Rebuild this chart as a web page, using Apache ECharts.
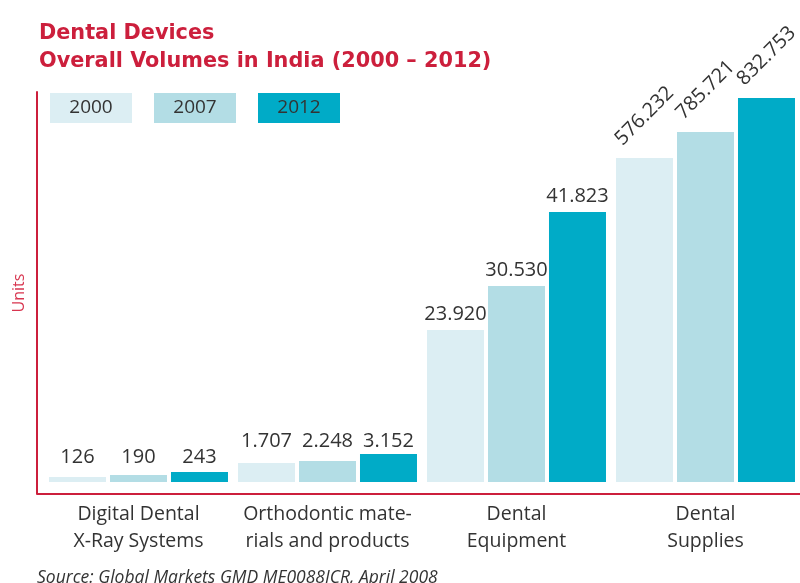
<!DOCTYPE html>
<html>
<head>
<meta charset="utf-8">
<script src="https://cdn.jsdelivr.net/npm/echarts@6/dist/echarts.min.js"></script>
<style>
  html, body { margin: 0; padding: 0; background: #ffffff; }
  #chart { width: 800px; height: 583px; }
</style>
</head>
<body>
<div id="chart"></div>
<script>
// ---- Data ----
const categories = ['Digital Dental\nX-Ray Systems', 'Orthodontic mate-\nrials and products', 'Dental\nEquipment', 'Dental\nSupplies'];
const years = ['2000', '2007', '2012'];
// Printed values (units)
const values2000 = [126, 1707, 23920, 576232];
const values2007 = [190, 2248, 30530, 785721];
const values2012 = [243, 3152, 41823, 832753];
// Drawn bar heights as they appear in the (not-to-scale) reference, in drawing units
const heights2000 = [5, 19, 152, 324];
const heights2007 = [7, 21, 196, 350];
const heights2012 = [10, 28, 270, 384];

const colors = ['#dceef3', '#b3dde5', '#00abc7'];
const RED = '#cc1f3c';
const FONT = '"Open Sans", "Noto Sans", sans-serif';

const allValues = [values2000, values2007, values2012];
const allHeights = [heights2000, heights2007, heights2012];

function fmt(v) {
  return String(v).replace(/\B(?=(\d{3})+(?!\d))/g, '.');
}

function buildData(si) {
  return allHeights[si].map((h, ci) => {
    const groupMax = Math.max(...allHeights.map(a => a[ci]));
    const item = { value: h, realValue: allValues[si][ci] };
    if (ci === 3) {
      item.label = { rotate: 45, align: 'center', verticalAlign: 'middle', distance: 42 };
    } else if (ci < 2) {
      item.label = { offset: [0, -(groupMax - h)], distance: ci === 0 ? 5 : 3 };
    } else {
      item.label = { distance: 6 };
    }
    return item;
  });
}

const series = years.map((y, si) => ({
  name: y,
  type: 'bar',
  barWidth: 57,
  barGap: '7%',
  itemStyle: { color: colors[si] },
  label: {
    show: true,
    position: 'top',
    distance: 5,
    color: '#333',
    fontFamily: FONT,
    fontSize: 20,
    formatter: p => fmt(p.data.realValue)
  },
  data: buildData(si)
}));

const legendGraphics = [];
const legendX = [50, 154, 258];
years.forEach((y, i) => {
  legendGraphics.push({
    type: 'group', left: legendX[i], top: 93,
    children: [
      { type: 'rect', shape: { x: 0, y: 0, width: 82, height: 30 }, style: { fill: colors[i] } },
      { type: 'text', x: 41, y: 15, style: { text: y, fill: '#333', font: '19px ' + FONT, align: 'center', verticalAlign: 'middle' } }
    ]
  });
});

const chart = echarts.init(document.getElementById('chart'));
chart.setOption({
  animation: false,
  backgroundColor: '#ffffff',
  title: {
    text: 'Dental Devices\nOverall Volumes in India (2000 – 2012)',
    left: 34, top: 15,
    textStyle: { color: RED, fontFamily: '"DejaVu Sans", sans-serif', fontSize: 20.8, fontWeight: 'bold', lineHeight: 28 }
  },
  grid: { left: 44, right: -3, top: 92, bottom: 89 },
  xAxis: {
    type: 'category',
    data: categories,
    axisLine: { onZero: false, lineStyle: { color: RED, width: 2 } },
    axisTick: { show: false },
    axisLabel: { color: '#333', fontFamily: FONT, fontSize: 19.5, lineHeight: 27, margin: 7, interval: 0 }
  },
  yAxis: {
    type: 'value',
    min: -12, max: 390,
    offset: 7,
    name: 'Units',
    nameLocation: 'middle',
    nameGap: 10,
    nameRotate: 90,
    nameTextStyle: { color: '#d8354f', fontFamily: FONT, fontSize: 16 },
    axisLine: { show: true, lineStyle: { color: RED, width: 2 } },
    axisTick: { show: false },
    axisLabel: { show: false },
    splitLine: { show: false }
  },
  series: series,
  graphic: legendGraphics.concat([
    { type: 'line', shape: { x1: 37, y1: 494, x2: 45, y2: 494 }, style: { stroke: RED, lineWidth: 2 } },
    { type: 'text', left: 37, top: 569, style: { text: 'Source: Global Markets GMD ME0088ICR, April 2008', fill: '#333', font: 'italic 17.5px ' + FONT } }
  ])
});
</script>
</body>
</html>
